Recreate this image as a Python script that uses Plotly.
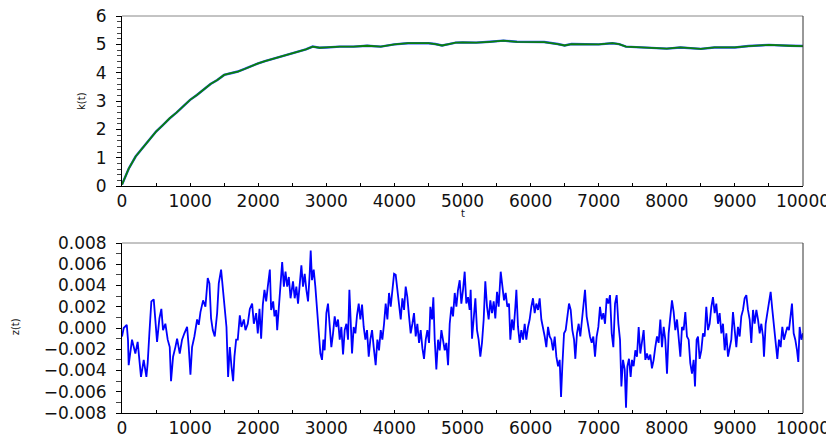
import plotly.graph_objects as go

# ---------------- data ----------------
t_k = [0, 100, 200, 300, 400, 500, 600, 700, 800, 900, 1000, 1100, 1200, 1300, 1400, 1500,
       1600, 1700, 1800, 1900, 2000, 2100, 2200, 2300, 2400, 2500, 2600, 2700, 2800, 2900,
       3000, 3200, 3400, 3600, 3800, 4000, 4200, 4400, 4500, 4600, 4700, 4800, 4900, 5000,
       5200, 5400, 5600, 5800, 6000, 6200, 6400, 6500, 6600, 6800, 7000, 7200, 7300, 7400,
       7600, 7800, 8000, 8200, 8400, 8500, 8700, 9000, 9200, 9500, 9800, 10000]
k_vals = [0.05, 0.62, 1.04, 1.33, 1.62, 1.92, 2.15, 2.39, 2.59, 2.82, 3.04, 3.21, 3.39, 3.6,
          3.74, 3.92, 3.98, 4.04, 4.13, 4.24, 4.33, 4.41, 4.48, 4.54, 4.62, 4.68, 4.76, 4.82,
          4.92, 4.88, 4.89, 4.92, 4.92, 4.95, 4.92, 5.0, 5.04, 5.04, 5.04, 5.01, 4.96, 5.01,
          5.06, 5.07, 5.06, 5.09, 5.13, 5.09, 5.08, 5.08, 5.01, 4.96, 5.01, 5.01, 5.0, 5.04,
          5.01, 4.92, 4.89, 4.86, 4.85, 4.89, 4.86, 4.84, 4.89, 4.89, 4.94, 4.98, 4.95, 4.94]

# z(t) values in units of 1e-3
t_z1 = [0, 25, 70, 88, 98, 147, 196, 230, 279, 319, 358, 377, 402, 431, 466, 490, 515, 549, 578, 603,
        637, 671, 701, 720, 750, 784, 809, 848, 882, 916, 956, 980, 1005, 1029, 1063, 1103, 1127,
        1152, 1191, 1225, 1259, 1284, 1308, 1333, 1362, 1397, 1421, 1455, 1485, 1504, 1534, 1558,
        1583, 1607, 1632, 1651, 1676, 1700, 1730, 1754, 1789, 1813, 1847, 1877, 1911, 1936, 1970,
        1994, 2019, 2043, 2068, 2092, 2117, 2141, 2171, 2190, 2220, 2239, 2264, 2279, 2303, 2328,
        2352, 2377, 2401, 2426, 2450, 2475, 2499]
z1 = [-0.8, 0.0, 0.3, -1.1, -3.5, -1.1, -2.4, -1.3, -4.6, -3.0, -4.6, -3.3, -0.5, 2.5, 2.7, 0.4,
      -1.3, 0.9, 1.8, -0.2, 0.4, -1.1, -1.8, -5.0, -2.7, -1.8, -1.0, -2.4, -1.1, -0.5, 0.1, -1.8,
      -4.4, -1.8, -0.8, 0.8, 0.3, 1.5, 2.6, 2.0, 4.7, 4.2, 0.9, -0.2, -0.8, 1.4, 4.2, 5.5, 3.7,
      2.0, 0.1, -4.6, -1.8, -3.6, -5.0, -2.7, -1.1, -1.1, 1.2, 0.1, 0.8, -0.2, 0.4, 1.8, 2.3, 0.4,
      1.4, -0.5, 1.8, -1.0, 2.2, 3.6, 2.5, 3.9, 5.5, 1.7, 2.5, 1.1, 1.7, -0.2, 2.0, 4.2, 6.2, 3.9,
      5.3, 3.9, 4.8, 2.8, 4.2]

t_z2 = [2511, 2536, 2560, 2585, 2609, 2634, 2658, 2683, 2707, 2732, 2756, 2771, 2790, 2815, 2839,
        2864, 2888, 2913, 2937, 2957, 2976, 3001, 3025, 3050, 3074, 3099, 3123, 3148, 3172, 3197,
        3221, 3246, 3270, 3295, 3319, 3339, 3358, 3378, 3402, 3427, 3451, 3476, 3500, 3525, 3549,
        3574, 3598, 3623, 3647, 3672, 3696, 3725, 3750, 3774, 3799, 3823, 3848, 3872, 3897, 3921,
        3946, 3970, 3995, 4019, 4044, 4068, 4093, 4117, 4142, 4166, 4190, 4215, 4239, 4264, 4288,
        4313, 4337, 4362, 4386, 4411, 4435, 4460, 4484, 4509, 4528, 4553, 4572, 4592, 4616, 4641,
        4665, 4690, 4714, 4739, 4763, 4788, 4812, 4837, 4861, 4886, 4910, 4934, 4959, 4983]
z2 = [4.4, 2.8, 3.9, 2.3, 4.5, 5.9, 3.9, 5.1, 3.6, 2.5, 5.1, 7.3, 4.5, 5.5, 3.9, 2.0, -0.5, -2.4,
      -3.0, -1.1, -2.1, 1.4, 2.3, 0.1, -1.8, -0.5, 1.1, 0.1, 0.8, -1.1, 0.1, -2.5, -0.2, 0.4, -1.1,
      3.6, 1.1, -2.4, 0.1, -0.5, 1.2, 2.3, 0.8, 2.2, 0.1, -1.1, -0.2, -2.7, -1.1, -0.2, -1.8, -3.5,
      -1.1, -2.1, -0.2, -1.1, 0.4, 2.3, 0.8, 3.3, 2.0, 3.3, 5.1, 5.0, 3.6, 2.0, 0.8, 2.8, 1.7, 3.9,
      2.9, 1.1, -0.5, 0.4, 1.4, -0.8, 0.4, -1.4, -0.2, -1.9, -2.9, -1.1, -0.2, -1.4, 2.0, 0.8, 2.9,
      -1.1, -3.9, -1.1, -2.1, -0.2, -1.1, -2.1, -1.4, -3.5, 0.4, 2.0, 1.1, 3.3, 2.0, 3.6, 4.5, 2.3]

t_z3 = [5008, 5032, 5056, 5081, 5105, 5120, 5140, 5164, 5189, 5213, 5237, 5262, 5286, 5311, 5335,
        5360, 5384, 5409, 5433, 5458, 5482, 5507, 5531, 5561, 5585, 5610, 5634, 5658, 5683, 5702,
        5727, 5751, 5776, 5791, 5815, 5840, 5864, 5889, 5913, 5937, 5962, 5986, 6011, 6035, 6060,
        6084, 6109, 6133, 6158, 6182, 6207, 6231, 6256, 6280, 6305, 6329, 6354, 6378, 6403, 6427,
        6447, 6466, 6491, 6515, 6540, 6564, 6589, 6613, 6638, 6657, 6681, 6706, 6730, 6755, 6779,
        6799, 6823, 6848, 6872, 6897, 6921, 6946, 6970, 6995, 7019, 7044, 7068, 7093, 7117, 7142,
        7166, 7191, 7215, 7240, 7264, 7289, 7313, 7333, 7357, 7382, 7401, 7421, 7445]
z3 = [3.6, 5.3, 2.3, 2.9, 1.7, 3.6, -1.0, 1.1, 2.8, -0.2, -1.1, -2.7, -1.4, 0.8, 4.4, 2.0, 0.8,
      2.6, 1.4, 2.5, 0.9, 3.4, 2.0, 5.3, 3.9, 2.6, 3.3, 2.0, 2.3, -1.1, 0.8, -0.2, 2.0, 3.6, 0.1,
      -1.4, -0.2, -1.1, 0.4, -1.1, 0.1, 0.8, 2.0, 2.8, 1.4, 2.3, 1.7, 2.8, 0.8, 0.1, -0.8, -1.8,
      0.1, -0.8, -1.1, -2.1, -0.8, -2.7, -3.6, -3.0, -6.5, -3.6, -0.5, -0.2, 1.1, 2.3, 1.7, -0.2,
      -1.1, -2.9, -0.5, 0.4, -0.8, 1.1, 2.6, 3.6, 1.1, 0.1, -0.8, -1.4, -0.8, -2.7, -0.8, 0.1, 2.0,
      0.8, 1.4, 0.4, 2.8, 2.3, 3.1, -0.5, -1.8, 2.3, 3.1, 0.4, -1.1, -5.5, -3.0, -3.9, -7.5, -3.6,
      -2.9]

t_z4 = [7469, 7489, 7513, 7538, 7562, 7587, 7611, 7636, 7660, 7685, 7709, 7733, 7758, 7782, 7807,
        7831, 7856, 7880, 7905, 7929, 7954, 7978, 8003, 8027, 8052, 8076, 8101, 8125, 8150, 8174,
        8199, 8223, 8247, 8272, 8296, 8321, 8345, 8370, 8394, 8414, 8438, 8458, 8482, 8507, 8531,
        8556, 8580, 8605, 8629, 8654, 8678, 8703, 8727, 8752, 8776, 8801, 8825, 8850, 8874, 8899,
        8923, 8947, 8972, 8996, 9021, 9045, 9070, 9094, 9119, 9143, 9168, 9192, 9217, 9241, 9266,
        9290, 9315, 9339, 9364, 9388, 9413, 9427, 9452, 9476, 9501, 9525, 9550, 9574, 9599, 9623,
        9647, 9672, 9696, 9721, 9745, 9770, 9794, 9819, 9838, 9863, 9887, 9912, 9931, 9951, 9976,
        10000]
z4 = [-4.6, -3.0, -3.6, -2.1, -2.7, 0.1, -2.4, -1.1, -0.2, -3.0, -2.4, -3.0, -2.5, -3.8, -3.0,
      -1.8, -0.8, -1.4, 0.8, -1.8, 0.1, -1.1, -4.3, -0.5, 0.8, 2.6, 1.5, -0.2, 0.8, -1.1, -2.7,
      0.1, -0.2, 1.5, -0.8, -1.1, -3.3, -4.3, -3.0, -5.5, -1.1, -0.8, -2.9, -2.1, -0.5, -0.8, 2.0,
      -0.2, 0.4, 2.0, 2.9, 1.4, 2.3, 0.4, 1.4, -0.5, 0.4, -2.1, -0.5, -2.7, -1.8, -1.1, 1.5, -0.5,
      -1.8, 0.1, -0.8, 1.1, 1.7, 2.8, 3.1, 1.7, 0.8, -1.4, 1.7, 0.4, 1.7, 0.8, -0.5, 0.4, -0.8,
      -2.7, 0.4, 1.4, 2.6, 3.4, 1.7, 0.1, -1.8, -2.9, -1.1, -1.8, 0.1, -1.1, -0.5, 0.1, -0.2, 1.4,
      2.3, -0.5, -1.1, -2.1, -3.2, 0.1, -1.1, -0.5]

x_ticks = [0, 1000, 2000, 3000, 4000, 5000, 6000, 7000, 8000, 9000, 10000]

for a, b in [(t_z1, z1), (t_z2, z2), (t_z3, z3), (t_z4, z4)]:
    assert len(a) == len(b), (len(a), len(b))

t_z = t_z1 + t_z2 + t_z3 + t_z4
z_vals = [v * 1e-3 for v in (z1 + z2 + z3 + z4)]

# ---------------- figure ----------------
fig = go.Figure()
fig.add_trace(go.Scatter(x=t_k, y=k_vals, mode="lines", line=dict(color="#3050ff", width=2.4),
                         xaxis="x", yaxis="y", showlegend=False))
fig.add_trace(go.Scatter(x=t_k, y=k_vals, mode="lines", line=dict(color="#0a800a", width=1.8),
                         xaxis="x", yaxis="y", showlegend=False))
fig.add_trace(go.Scatter(x=t_z, y=z_vals, mode="lines", line=dict(color="#0000ff", width=1.8),
                         xaxis="x2", yaxis="y2", showlegend=False))

tickfont = dict(family="DejaVu Sans", size=17, color="#111111")
common_x = dict(range=[0, 10000], tickvals=x_ticks, tickformat="d", showline=True,
                linecolor="#000000", linewidth=1, ticks="inside", ticklen=3,
                tickcolor="#000000", showgrid=False, zeroline=False, tickfont=tickfont,
                automargin=False, ticklabeloverflow="allow",
                minor=dict(dtick=500, ticks="inside", ticklen=3, tickcolor="#000000"))

# page body adds an 8px offset, so the figure is sized to fit the 834x437 window
fig.update_layout(
    width=826, height=429,
    margin=dict(l=114, r=31, t=8, b=24, autoexpand=False),
    paper_bgcolor="white", plot_bgcolor="white",
    xaxis=dict(domain=[0, 1], anchor="y", **common_x),
    yaxis=dict(domain=[0.5718, 1.0], anchor="x", range=[0, 6], dtick=1, showline=True,
               linecolor="#000000", ticks="outside", ticklen=5, tickcolor="#000000",
               showgrid=False, zeroline=False, tickfont=tickfont, automargin=False,
               ticklabelstandoff=6, ticklabeloverflow="allow",
               minor=dict(dtick=0.2, ticks="outside", ticklen=4, tickcolor="#444444")),
    xaxis2=dict(domain=[0, 1], anchor="y2", **common_x),
    yaxis2=dict(domain=[0.0, 0.4282], anchor="x2", range=[-0.008, 0.008], dtick=0.002,
                tickformat=".3f", showline=True, linecolor="#000000", ticks="outside",
                ticklen=5, tickcolor="#000000", showgrid=False, zeroline=False,
                tickfont=tickfont, automargin=False, ticklabelstandoff=6,
                ticklabeloverflow="allow",
                minor=dict(dtick=0.001, ticks="outside", ticklen=5, tickcolor="#444444")),
)

# gray top/right frame lines
for xr, yr in [("x domain", "y domain"), ("x2 domain", "y2 domain")]:
    fig.add_shape(type="line", xref=xr, yref=yr, x0=0, x1=1, y0=1, y1=1,
                  line=dict(color="#888888", width=1))
    fig.add_shape(type="line", xref=xr, yref=yr, x0=1, x1=1, y0=0, y1=1,
                  line=dict(color="#333333", width=1))

lab = dict(family="DejaVu Sans", size=10, color="#111111")
ann = dict(xref="paper", yref="paper", showarrow=False, font=lab,
           xanchor="center", yanchor="middle")
fig.add_annotation(text="k(t)", x=-0.0587, y=0.786, textangle=-90, **ann)
fig.add_annotation(text="z(t)", x=-0.157, y=0.216, textangle=-90, **ann)
fig.add_annotation(text="t", x=0.5, y=0.502, **ann)
fig.add_annotation(text="t", x=0.5, y=-0.078, **ann)

fig.write_html("out.html")
